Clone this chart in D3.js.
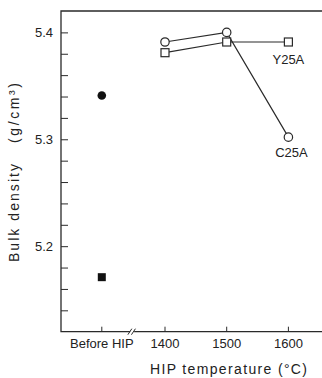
<!DOCTYPE html>
<html>
<head>
<meta charset="utf-8">
<script src="https://cdn.jsdelivr.net/npm/d3@7"></script>
<style>
  body { margin: 0; background: #fff; }
  text { font-family: "Liberation Sans", Arial, sans-serif; fill: #222; }
</style>
</head>
<body>
<div id="chart"></div>
<script>
var width = 322, height = 378;

// data
var temps = [1400, 1500, 1600];
var c25a = [5.391, 5.400, 5.302];
var y25a = [5.381, 5.391, 5.391];
var beforeCircle = 5.341;   // C25A before HIP
var beforeSquare = 5.171;   // Y25A before HIP
var yTicks = d3.range(5.14, 5.41, 0.02);
var yLabels = [5.2, 5.3, 5.4];
var xLabels = ["Before HIP", "1400", "1500", "1600"];

var plotLeft = 61, plotTop = 11, plotBottom = 331.7;

var svg = d3.select("#chart")
  .append("svg")
    .attr("width", width)
    .attr("height", height);

// broken temperature axis: "Before HIP" sits one step left of 1400
var x = d3.scaleLinear()
    .domain([1400, 1600])
    .range([165, 288.4]);
var xBefore = x(1300) - 1.5;

var y = d3.scaleLinear()
    .domain([5.12, 5.42])
    .range([plotBottom, plotTop]);

var ink = "#2a2a2a";

// frame
svg.append("path")
    .attr("d", "M" + width + "," + plotTop + "H" + plotLeft + "V" + plotBottom + "H" + width)
    .attr("fill", "none")
    .attr("stroke", ink)
    .attr("stroke-width", 1.3);

// y ticks (inside)
var yAxis = svg.append("g")
    .attr("transform", "translate(" + plotLeft + ",0)")
    .call(d3.axisRight(y)
      .tickValues(yTicks)
      .tickSize(7)
      .tickFormat(""));
yAxis.select(".domain").remove();
yAxis.selectAll(".tick line").attr("stroke", ink).attr("stroke-width", 1);

svg.selectAll(".ylab")
    .data(yLabels)
  .enter().append("text")
    .attr("class", "ylab")
    .attr("x", plotLeft - 8)
    .attr("y", function(d) { return y(d); })
    .attr("dy", "0.36em")
    .attr("text-anchor", "end")
    .attr("font-size", 13)
    .text(function(d) { return d.toFixed(1); });

// x ticks (inside)
var xTickPos = [xBefore].concat(temps.map(x));
svg.selectAll(".xtick")
    .data(xTickPos)
  .enter().append("line")
    .attr("x1", function(d) { return d; })
    .attr("x2", function(d) { return d; })
    .attr("y1", plotBottom)
    .attr("y2", plotBottom - 5)
    .attr("stroke", ink)
    .attr("stroke-width", 1);

svg.selectAll(".xlab")
    .data(xLabels)
  .enter().append("text")
    .attr("x", function(d, i) { return xTickPos[i]; })
    .attr("y", plotBottom + 16)
    .attr("text-anchor", "middle")
    .attr("font-size", 13)
    .text(function(d) { return d; });

// axis break mark
var xb = x(1350) - 2.5;
svg.append("rect")
    .attr("x", xb - 1.5).attr("y", plotBottom - 2)
    .attr("width", 4).attr("height", 4)
    .attr("fill", "#fff");
[-1.8, 1.8].forEach(function(o) {
  svg.append("line")
      .attr("x1", xb + o - 2).attr("y1", plotBottom + 3)
      .attr("x2", xb + o + 2).attr("y2", plotBottom - 3)
      .attr("stroke", ink)
      .attr("stroke-width", 1);
});

// axis titles
svg.append("text")
    .attr("x", 150)
    .attr("y", 374)
    .attr("font-size", 14)
    .attr("textLength", 157)
    .attr("lengthAdjust", "spacing")
    .text("HIP temperature (°C)");

svg.append("text")
    .attr("transform", "translate(19,262) rotate(-90)")
    .attr("font-size", 14)
    .attr("textLength", 98)
    .attr("lengthAdjust", "spacing")
    .text("Bulk density");

svg.append("text")
    .attr("transform", "translate(19,143) rotate(-90)")
    .attr("font-size", 14)
    .attr("textLength", 60)
    .attr("lengthAdjust", "spacing")
    .text("(g/cm³)");

// lines
var line = d3.line()
    .x(function(d) { return x(d[0]); })
    .y(function(d) { return y(d[1]); });

var cPts = d3.zip(temps, c25a);
var yPts = d3.zip(temps, y25a);

[cPts, yPts].forEach(function(pts) {
  svg.append("path")
      .datum(pts)
      .attr("d", line)
      .attr("fill", "none")
      .attr("stroke", ink)
      .attr("stroke-width", 1.2);
});

// markers
svg.selectAll(".sq")
    .data(yPts)
  .enter().append("rect")
    .attr("x", function(d) { return x(d[0]) - 4; })
    .attr("y", function(d) { return y(d[1]) - 4; })
    .attr("width", 8)
    .attr("height", 8)
    .attr("fill", "#fff")
    .attr("stroke", ink)
    .attr("stroke-width", 1.2);

svg.selectAll(".ci")
    .data(cPts)
  .enter().append("circle")
    .attr("cx", function(d) { return x(d[0]); })
    .attr("cy", function(d) { return y(d[1]); })
    .attr("r", 4.2)
    .attr("fill", "#fff")
    .attr("stroke", ink)
    .attr("stroke-width", 1.2);

svg.append("circle")
    .attr("cx", xBefore)
    .attr("cy", y(beforeCircle))
    .attr("r", 4.3)
    .attr("fill", "#111");

svg.append("rect")
    .attr("x", xBefore - 4)
    .attr("y", y(beforeSquare) - 4)
    .attr("width", 8)
    .attr("height", 8)
    .attr("fill", "#111");

// series labels
svg.append("text")
    .attr("x", x(1600))
    .attr("y", y(y25a[2]) + 22)
    .attr("text-anchor", "middle")
    .attr("font-size", 13)
    .text("Y25A");

svg.append("text")
    .attr("x", x(1600) + 3)
    .attr("y", y(c25a[2]) + 20)
    .attr("text-anchor", "middle")
    .attr("font-size", 13)
    .text("C25A");
</script>
</body>
</html>
